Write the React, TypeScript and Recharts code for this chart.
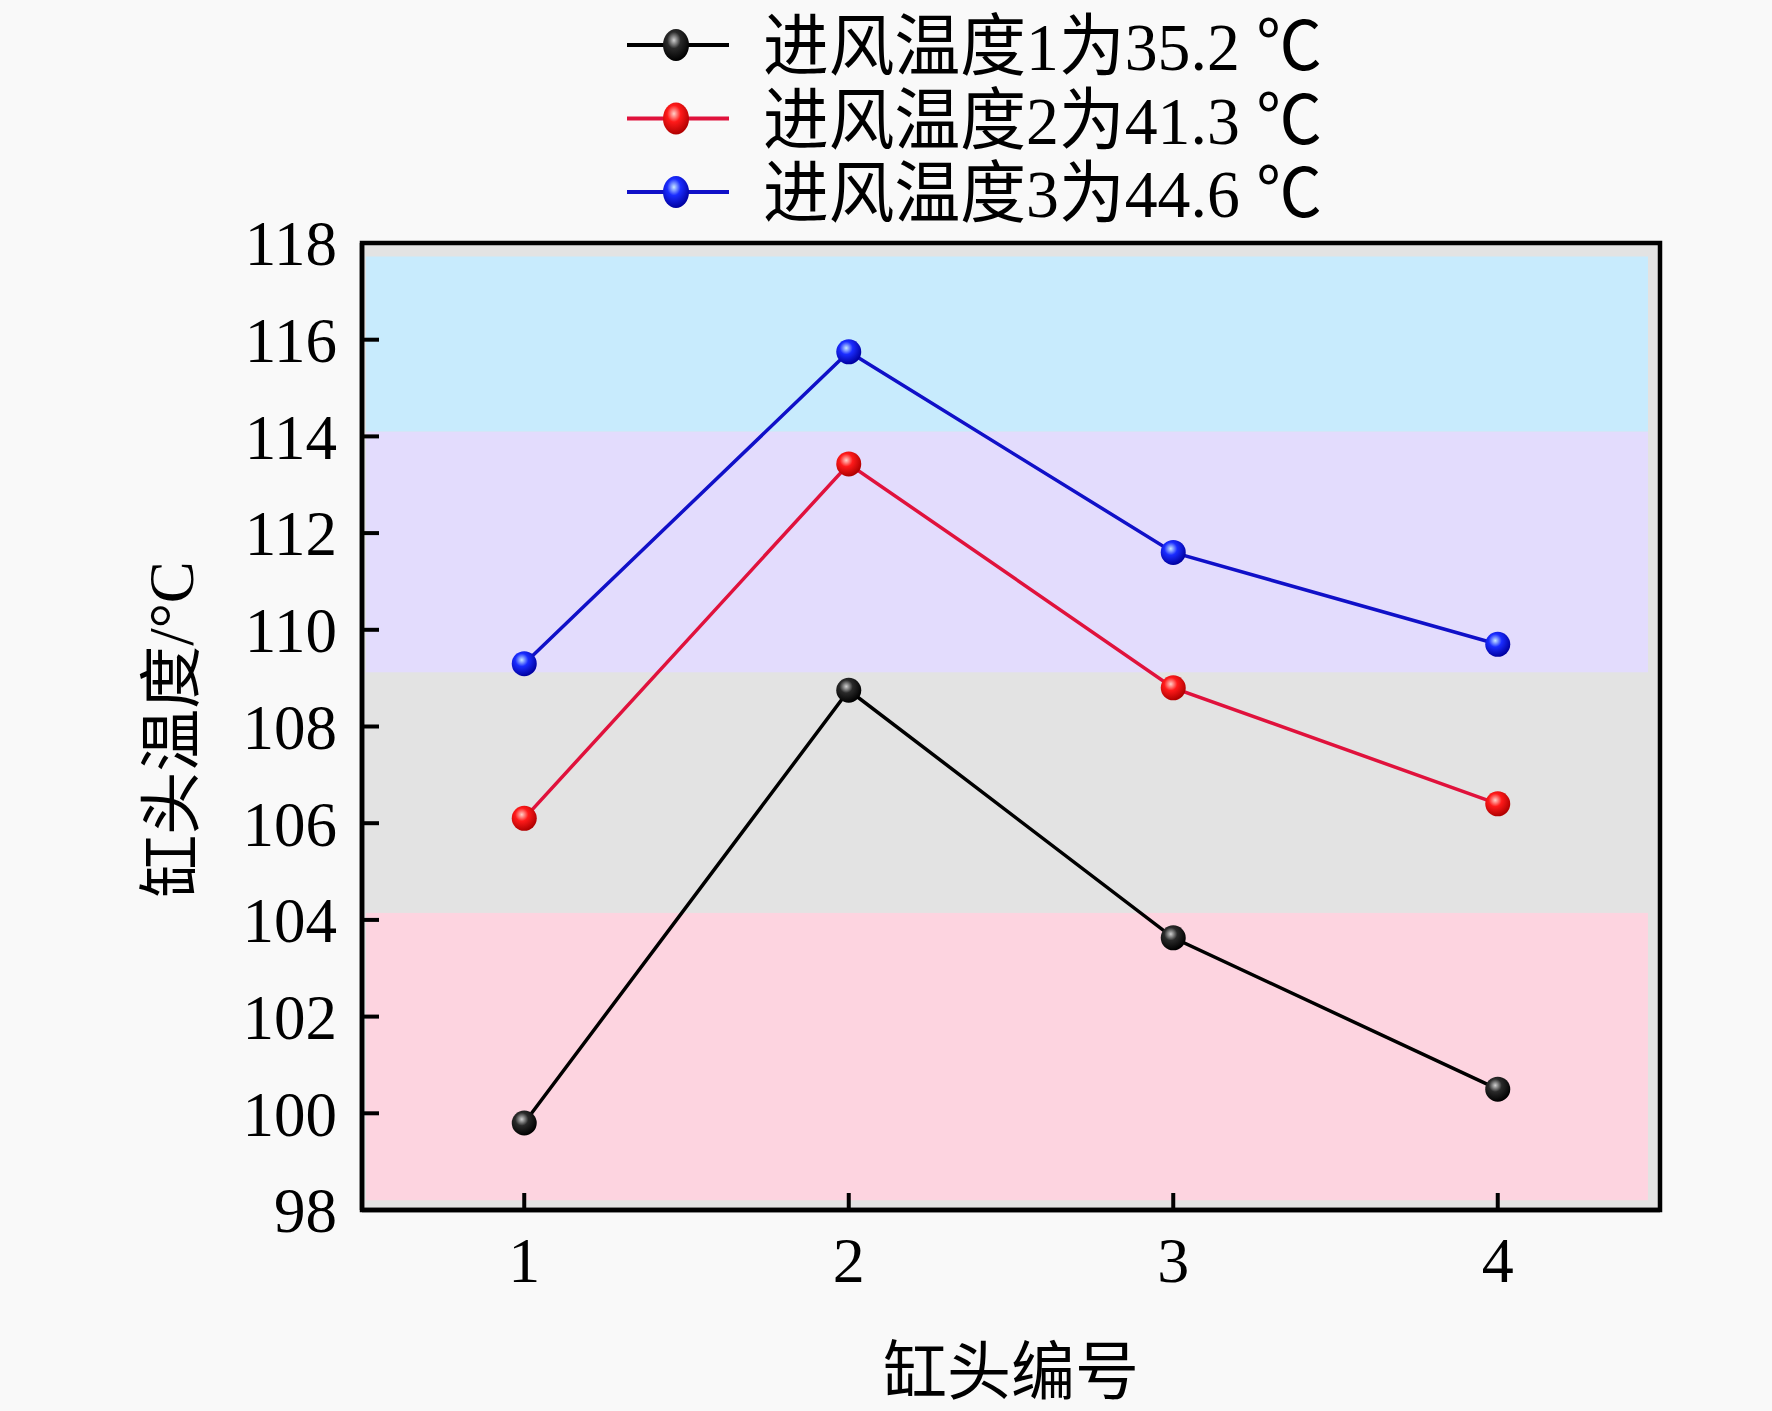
import React from 'react';
import { LineChart, Line, XAxis, YAxis, ReferenceArea, Legend } from 'recharts';

// cylinder head number
const heads = [1, 2, 3, 4];
// cylinder head temperature (°C) for the three intake temperatures
const temp1 = [99.8, 108.75, 103.63, 100.5];
const temp2 = [106.1, 113.43, 108.8, 106.4];
const temp3 = [109.3, 115.75, 111.6, 109.7];

const seriesNames = ['进风温度1为35.2 ℃', '进风温度2为41.3 ℃', '进风温度3为44.6 ℃'];
const yTicks = [98, 100, 102, 104, 106, 108, 110, 112, 114, 116, 118];

// background bands (value ranges on the y axis)
const bandFrom = [98.2, 104.15, 109.12, 114.1];
const bandTo = [104.15, 109.12, 114.1, 117.72];
const bandColors = ['#fdd4e0', '#e3e3e3', '#e3dcfd', '#c8ebfd'];

const lineColors = ['#000000', '#e0123c', '#1010c8'];
const dotColors = [
    ['#d0d0d0', '#2a2a2a', '#000000'],
    ['#ffd0c8', '#ff1a1a', '#b00000'],
    ['#c8e8ff', '#1a2cff', '#0000a0'],
];

const data = heads.map((h, i) => ({ head: h, t1: temp1[i], t2: temp2[i], t3: temp3[i] }));
const keys = ['t1', 't2', 't3'];

const serif = '"Liberation Serif", "Noto Sans CJK SC", serif';

const SphereDot = (idx: number) => (props: any) => {
    const { cx, cy, key } = props;
    if (cx == null || cy == null) return null;
    return <circle key={key} cx={cx} cy={cy} r={12.5} fill={`url(#sphere${idx})`} />;
};

const LegendBox = () => (
    <svg width={1772} height={240} style={{ display: 'block', overflow: 'visible' }}>
        <defs>
            {dotColors.map((c, i) => (
                <radialGradient key={i} id={`lsphere${i}`} cx="42%" cy="35%" r="65%">
                    <stop offset="0%" stopColor={c[0]} />
                    <stop offset="40%" stopColor={c[1]} />
                    <stop offset="100%" stopColor={c[2]} />
                </radialGradient>
            ))}
        </defs>
        {seriesNames.map((name, i) => {
            const cy = 45 + i * 73.5;
            return (
                <g key={name}>
                    <line x1={627} x2={729} y1={cy} y2={cy} stroke={lineColors[i]} strokeWidth={4} />
                    <ellipse cx={676} cy={cy} rx={13} ry={16} fill={`url(#lsphere${i})`} />
                    <text x={763} y={cy + 25} fontSize={68} fontFamily={serif} fill="#000"
                        textLength={559} lengthAdjust="spacingAndGlyphs">{name}</text>
                </g>
            );
        })}
    </svg>
);

export default function App() {
    return (
        <div style={{ width: 1772, height: 1411, background: '#f9f9f9', position: 'relative' }}>
            <style>{'body{margin:0;background:#f9f9f9}'}</style>
            <LineChart width={1772} height={1411} data={data}
                margin={{ top: 243, right: 112, bottom: 101, left: 262 }}>
                <defs>
                    {dotColors.map((c, i) => (
                        <radialGradient key={i} id={`sphere${i}`} cx="40%" cy="35%" r="65%">
                            <stop offset="0%" stopColor={c[0]} />
                            <stop offset="40%" stopColor={c[1]} />
                            <stop offset="100%" stopColor={c[2]} />
                        </radialGradient>
                    ))}
                </defs>
                <ReferenceArea x1={0.5} x2={4.5} y1={98} y2={118} fill="#e3e3e3" fillOpacity={1} stroke="none" />
                {bandFrom.map((b, i) => (
                    <ReferenceArea key={i} x1={0.512} x2={4.463} y1={b} y2={bandTo[i]}
                        fill={bandColors[i]} fillOpacity={1} stroke="none" />
                ))}
                <ReferenceArea x1={0.5} x2={4.5} y1={98} y2={118} fill="none" stroke="#000" strokeWidth={4.5} />
                <XAxis dataKey="head" type="number" domain={[0.5, 4.5]} ticks={heads} height={100}
                    axisLine={{ stroke: '#000', strokeWidth: 4.5 }}
                    tickLine={{ stroke: '#000', strokeWidth: 4 }} tickSize={-17} tickMargin={44}
                    tick={{ fontSize: 64, fill: '#000', fontFamily: serif }}
                    label={(p: any) => {
                        const vb = p.viewBox;
                        return (
                            <text x={vb.x + vb.width / 2} y={vb.y + 184} textAnchor="middle" fontSize={64}
                                fontFamily='"Noto Sans CJK SC", sans-serif' fill="#000">缸头编号</text>
                        );
                    }} />
                <YAxis type="number" domain={[98, 118]} ticks={yTicks} width={100} interval={0}
                    axisLine={{ stroke: '#000', strokeWidth: 4.5 }}
                    tickLine={{ stroke: '#000', strokeWidth: 4 }} tickSize={-17} tickMargin={42}
                    tick={{ fontSize: 63, fill: '#000', fontFamily: serif }}
                    label={(p: any) => {
                        const vb = p.viewBox;
                        const cx = vb.x - 90;
                        const cy = vb.y + vb.height / 2 + 3;
                        return (
                            <text x={cx} y={cy} transform={`rotate(-90 ${cx} ${cy})`} textAnchor="middle"
                                dominantBaseline="central" fontSize={63} fontFamily={serif} fill="#000">
                                缸头温度/°C
                            </text>
                        );
                    }} />
                <Legend layout="vertical" align="center" verticalAlign="middle"
                    wrapperStyle={{ top: 0, left: 0, width: 1772, height: 240 }} content={() => <LegendBox />} />
                {keys.map((k, i) => (
                    <Line key={k} dataKey={k} name={seriesNames[i]} stroke={lineColors[i]} strokeWidth={3.5}
                        dot={SphereDot(i)} activeDot={false} isAnimationActive={false} />
                ))}
            </LineChart>
        </div>
    );
}
